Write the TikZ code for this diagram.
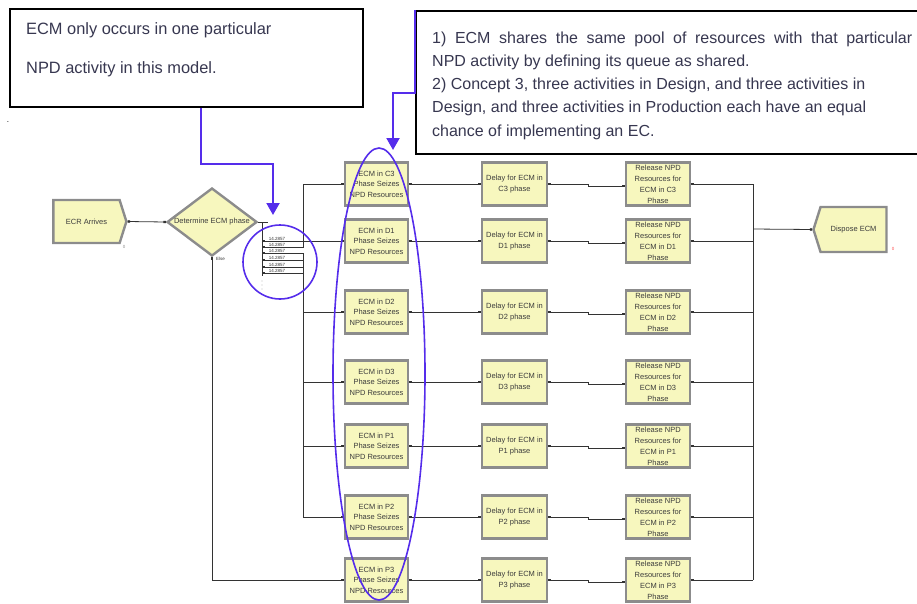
\documentclass[tikz,border=0pt]{standalone}
\usepackage{fontspec}
\setmainfont{Liberation Sans}
\usetikzlibrary{arrows.meta,shapes.geometric,shapes.symbols}
\definecolor{arena}{RGB}{247,247,190}
\definecolor{arenaborder}{RGB}{140,140,140}
\definecolor{callblue}{RGB}{85,45,235}
\definecolor{calltext}{RGB}{55,55,80}
\definecolor{modtext}{RGB}{60,60,60}
\begin{document}
\begin{tikzpicture}[x=1pt,y=-1pt,
  mod/.style={draw=arenaborder, line width=2.4pt, fill=arena, minimum width=63pt, minimum height=43pt, inner sep=0pt, align=center, font=\fontsize{7.5}{10.5}\selectfont, text=modtext},
  wire/.style={draw=black!80, line width=0.8pt},
  conn/.style={wire, {Square[length=2.4pt,width=2.4pt]}-{Square[length=2.4pt,width=2.4pt]}},
  connout/.style={wire, {Square[length=2.4pt,width=2.4pt]}-},
  connin/.style={wire, -{Square[length=2.4pt,width=2.4pt]}},
  callbox/.style={draw=black, line width=1.8pt, fill=white, inner sep=0pt},
  calltxt/.style={anchor=base west, inner sep=0pt, text=calltext, font=\fontsize{16.4}{20}\selectfont},
  callline/.style={draw=callblue, line width=2pt},
  callarrow/.style={callline, -{Triangle[length=12pt,width=13pt]}},
  ring/.style={draw=callblue, line width=1.6pt, inner sep=0pt},
  tinytxt/.style={font=\fontsize{4.5}{5}\selectfont, inner sep=0pt, text=black!80},
]
\useasboundingbox (0,0) rectangle (917,603);

% callout boxes
\node[callbox, anchor=north west, minimum width=353pt, minimum height=98pt] (lbox) at (9,8) {};
\node[callbox, anchor=north west, minimum width=510pt, minimum height=143pt] (rbox) at (415,10) {};
\node[calltxt] (l1) at (26,34) {ECM only occurs in one particular};
\node[calltxt] (l2) at (26,73) {NPD activity in this model.};
\node[calltxt, font=\fontsize{16}{20}\selectfont] (r1) at (432,43) {\makebox[480pt][s]{1) ECM shares the same pool of resources with that particular}};
\node[calltxt, font=\fontsize{16}{20}\selectfont] (r2) at (432,66) {NPD activity by defining its queue as shared.};
\node[calltxt, font=\fontsize{16}{20}\selectfont] (r3) at (432,89) {2) Concept 3, three activities in Design, and three activities in};
\node[calltxt, font=\fontsize{16}{20}\selectfont] (r4) at (432,112) {Design, and three activities in Production each have an equal};
\node[calltxt, font=\fontsize{16}{20}\selectfont] (r5) at (432,136) {chance of implementing an EC.};
\node[font=\fontsize{8}{8}\selectfont, inner sep=0pt] (dot) at (8,122) {.};

% create / decide / dispose
\node[mod, signal, signal to=east, signal pointer angle=145, minimum width=73pt, minimum height=43pt] (ecr) at (86.5,221.5) {ECR Arrives};
\node[mod, diamond, minimum width=90pt, minimum height=68pt] (dec) at (212,222) {};
\node[font=\fontsize{7.5}{9}\selectfont, text=modtext, inner sep=0pt] (dect) at (dec) {Determine ECM phase};
\node[mod, signal, signal to=west, signal pointer angle=145, minimum width=73pt, minimum height=45pt] (disp) at (853.5,229.5) {Dispose ECM};
\node[tinytxt, text=black!45] (ecrcnt) at (124,247) {0};
\node[tinytxt, text=red!70] (dispcnt) at (893,249) {0};
\node[tinytxt, anchor=west] (else) at (216,259) {Else};

% modules in three columns
\foreach \n/\y in {C3/184, D1/241, D2/312, D3/382, P1/446, P2/517, P3/580}{
  \node[mod] (a\n) at (376.5,\y) {ECM in \n\\Phase Seizes\\NPD Resources};
  \node[mod, minimum width=65pt] (b\n) at (514.5,\y) {Delay for ECM in\\\n{} phase};
  \node[mod, minimum width=64pt, minimum height=43pt, font=\fontsize{7.5}{11}\selectfont] (c\n) at (658,\y) {Release NPD\\Resources for\\ECM in \n\\Phase};
  \draw[conn] (a\n.east) -- (b\n.west);
  \draw[conn] (b\n.east) -- ++(40,0) -- ++(0,2) -- ([yshift=-2pt]c\n.west);
  \draw[connout] (c\n.east) -- (753,\y);
}
\draw[wire] (753,184) -- (753,580);
\coordinate (bus) at (753,229);
\draw[connin] (bus) -- (disp.west);

% connection create -> decide
\draw[conn] (ecr.east) -- (dec.west);

% decide branches
\coordinate (dk) at (262,222);
\draw[wire] (dec.east) -- (268,222);
\draw[wire] (dk) -- (262,276);
\foreach \yy in {281,285,289} \fill[black!70] (262,\yy) circle (0.45pt);
\coordinate (br1) at (262,241);
\coordinate (br2) at (262,247);
\coordinate (br3) at (262,253);
\coordinate (br4) at (262,260);
\coordinate (br5) at (262,267);
\coordinate (br6) at (262,273);
\foreach \k in {1,...,6}{
  \node[tinytxt] at ([xshift=15pt, yshift=1.8pt]br\k) {14.2857};
}
\draw[conn] (br1) -- (aD1.west);
\draw[conn] (br2) -- (303,247) |- (aC3.west);
\draw[conn] (br3) -- (303,253) |- (aD2.west);
\draw[conn] (br4) -- (303,260) |- (aD3.west);
\draw[conn] (br5) -- (303,267) |- (aP1.west);
\draw[conn] (br6) -- (303,273) |- (aP2.west);
\draw[conn] (dec.south) |- (aP3.west);

% blue highlights
\node[ring, circle, minimum size=74pt] (circ) at (280,262) {};
\node[ring, ellipse, minimum width=92pt, minimum height=452pt] (ell) at (379,374) {};
\coordinate (ltip) at (273,215);
\coordinate (rtip) at (393,150);
\draw[callarrow] ([xshift=14.5pt]lbox.south) -- ++(0,56) -| (ltip);
\draw[callarrow] (rbox.north west) -- ++(0,83) -| (rtip);
\end{tikzpicture}
\end{document}
